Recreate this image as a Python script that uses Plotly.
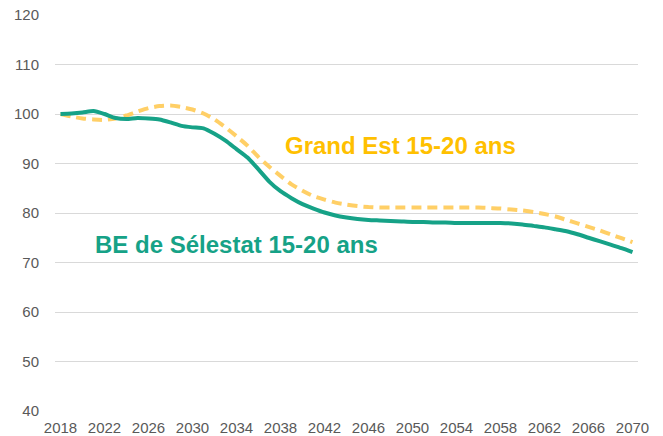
import plotly.graph_objects as go

years = list(range(2018, 2071))

be_selestat = [
    100.0, 100.1, 100.3, 100.6, 100.0, 99.2, 99.0, 99.2, 99.1, 98.9,
    98.3, 97.6, 97.3, 97.1, 96.0, 94.6, 92.9, 91.2, 88.8, 86.3,
    84.4, 83.0, 81.8, 80.9, 80.1, 79.5, 79.1, 78.8, 78.6, 78.5,
    78.4, 78.3, 78.2, 78.2, 78.1, 78.1, 78.0, 78.0, 78.0, 78.0,
    78.0, 77.9, 77.7, 77.4, 77.1, 76.7, 76.3, 75.7, 75.0, 74.3,
    73.6, 72.9, 72.1,
]

grand_est = [
    100.0, 99.5, 99.1, 98.9, 98.8, 99.1, 99.7, 100.5, 101.2, 101.6,
    101.7, 101.4, 100.9, 100.1, 98.9, 97.3, 95.5, 93.6, 91.3, 89.3,
    87.5, 85.8, 84.5, 83.4, 82.7, 82.1, 81.7, 81.4, 81.2, 81.1,
    81.1, 81.1, 81.1, 81.1, 81.1, 81.1, 81.1, 81.1, 81.1, 81.0,
    80.9, 80.7, 80.5, 80.2, 79.8, 79.3, 78.6, 77.9, 77.2, 76.5,
    75.7, 74.9, 74.1,
]

x_ticks = list(range(2018, 2071, 4))
y_ticks = list(range(40, 121, 10))

TEAL = "#16A287"
GOLD_LINE = "#FFCF66"
GOLD_TEXT = "#FFC000"
FONT = "Liberation Sans, Arial, sans-serif"

fig = go.Figure()
fig.add_trace(go.Scatter(
    x=years, y=grand_est, mode="lines", name="Grand Est 15-20 ans",
    line=dict(color=GOLD_LINE, width=4, dash="10px,6px", shape="spline", smoothing=0.6),
))
fig.add_trace(go.Scatter(
    x=years, y=be_selestat, mode="lines", name="BE de Sélestat 15-20 ans",
    line=dict(color=TEAL, width=4, shape="spline", smoothing=0.6),
))

fig.add_annotation(x=2048.9, y=93.6, text="<b>Grand Est 15-20 ans</b>", showarrow=False,
                   font=dict(family=FONT, size=24, color=GOLD_TEXT), xanchor="center", yanchor="middle")
fig.add_annotation(x=2034.0, y=73.6, text="<b>BE de Sélestat 15-20 ans</b>", showarrow=False,
                   font=dict(family=FONT, size=24, color=TEAL), xanchor="center", yanchor="middle")

fig.update_layout(
    width=663, height=436,
    margin=dict(l=55, r=25, t=15, b=25, autoexpand=False),
    paper_bgcolor="white", plot_bgcolor="white",
    showlegend=False,
    font=dict(family=FONT, size=15, color="#595959"),
)
fig.update_xaxes(
    range=[2017.5, 2070.5], tickvals=x_ticks, ticktext=[str(v) for v in x_ticks],
    showgrid=False, zeroline=False, showline=False, automargin=False,
    ticks="outside", ticklen=3, tickcolor="rgba(0,0,0,0)",
    tickfont=dict(size=15, color="#595959"),
)
fig.update_yaxes(
    range=[40, 120], tickvals=y_ticks, automargin=False,
    showgrid=True, gridcolor="#D9D9D9", gridwidth=1, zeroline=False, showline=False,
    ticks="outside", ticklen=12, tickcolor="rgba(0,0,0,0)",
    tickfont=dict(size=15, color="#595959"),
)

fig.write_html("out.html", config={"displayModeBar": False},
               post_script="document.body.style.margin='0';")
